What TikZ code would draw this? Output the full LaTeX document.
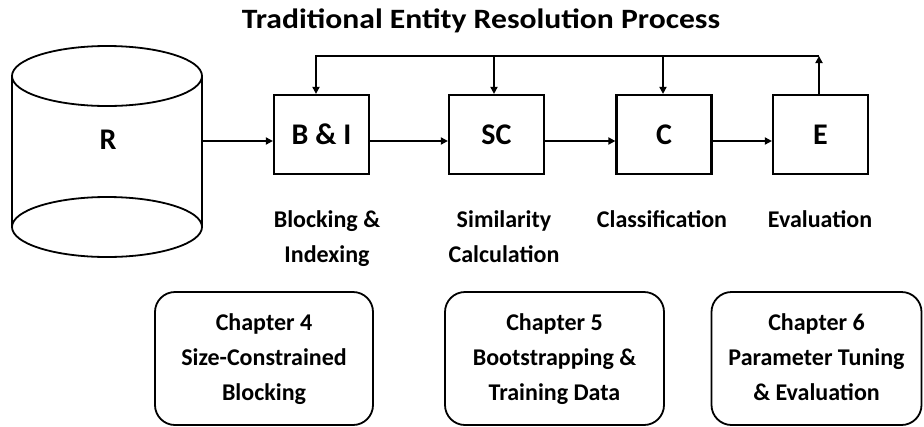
\documentclass[tikz,border=0pt]{standalone}
\usepackage{fontspec}
\setmainfont{Carlito}
\newfontfamily\titlefont[FakeStretch=1.13]{Carlito}
\usetikzlibrary{arrows.meta}
\begin{document}
\begin{tikzpicture}[x=1pt,y=-1pt,
  stage/.style={draw, line width=2.2pt, minimum width=95pt, minimum height=79pt,
    inner sep=0pt, font=\fontsize{30}{36}\selectfont\bfseries},
  caption/.style={align=center, inner sep=0pt, font=\fontsize{24}{35}\selectfont\bfseries},
  chapter/.style={draw, line width=1.8pt, rounded corners=20pt, minimum height=133pt,
    align=center, inner sep=0pt, font=\fontsize{24}{35}\selectfont\bfseries},
  wire/.style={line width=1.8pt},
  flow/.style={wire, -{Triangle[length=7pt,width=7pt]}},
]
\useasboundingbox (0,0) rectangle (924,426);

% title
\node[anchor=base, inner sep=0pt, font=\titlefont\fontsize{28}{32}\selectfont\bfseries] (title) at (481,28)
  {Traditional Entity Resolution Process};

% record store drawn as a cylinder
\draw[wire] (12,76) -- (12,227) (202,76) -- (202,227);
\draw[wire] (107,76) ellipse [x radius=95, y radius=30];
\draw[wire] (107,227) ellipse [x radius=95, y radius=30];
\node[font=\fontsize{30}{36}\selectfont\bfseries] (R) at (108,139.5) {R};
\coordinate (Rout) at (202,141);

% pipeline stages
\node[stage] (bi) at (321.5,134.5) {B \& I};
\node[stage] (sc) at (496.5,134.5) {SC};
\node[stage] (cl) at (664,134.5) {C};
\node[stage] (ev) at (820.5,134.5) {E};

% stage names
\node[caption] (bicap) at (327,237.5) {\strut Blocking \&\\\strut Indexing};
\node[caption] (sccap) at (504,237.5) {\strut Similarity\\\strut Calculation};
\node[caption] (clcap) at (662,237.5) {\strut Classification\\\strut};
\node[caption] (evcap) at (820,237.5) {\strut Evaluation\\\strut};

% forward flow
\draw[flow] (Rout) -- (Rout -| bi.west);
\draw[flow] (bi.east |- Rout) -- (sc.west |- Rout);
\draw[flow] (sc.east |- Rout) -- (cl.west |- Rout);
\draw[flow] (cl.east |- Rout) -- (ev.west |- Rout);

% feedback loop from evaluation
\coordinate (top) at (0,56);
\coordinate (fbE) at ([xshift=-1.5pt]ev.north);
\coordinate (fbB) at ([xshift=-5.5pt]bi.north);
\coordinate (fbS) at ([xshift=-2.5pt]sc.north);
\coordinate (fbC) at ([xshift=-1pt]cl.north);
\draw[flow] (fbE) -- (fbE |- top);
\draw[flow] (fbE |- top) -- (fbB |- top) -- (fbB);
\draw[flow] (fbS |- top) -- (fbS);
\draw[flow] (fbC |- top) -- (fbC);

% chapter boxes
\node[chapter, minimum width=218pt] (ch4) at (264,358.5)
  {\strut Chapter 4\\\strut Size-Constrained\\\strut Blocking};
\node[chapter, minimum width=219pt] (ch5) at (554.5,358.5)
  {\strut Chapter 5\\\strut Bootstrapping \&\\\strut Training Data};
\node[chapter, minimum width=210pt] (ch6) at (816.5,358.5)
  {\strut Chapter 6\\\strut Parameter Tuning\\\strut \& Evaluation};
\end{tikzpicture}
\end{document}
